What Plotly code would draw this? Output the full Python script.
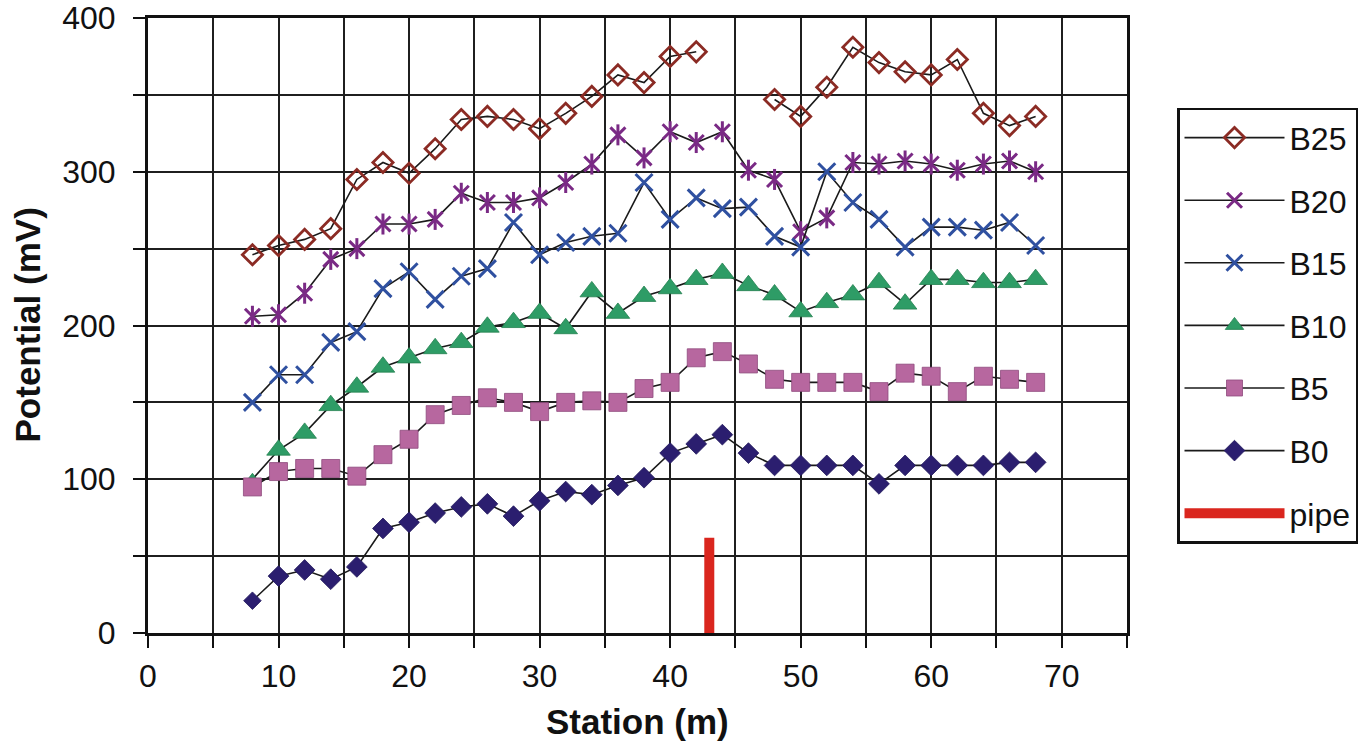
import plotly.graph_objects as go

# Survey stations along the line (m)
stations = [8, 10, 12, 14, 16, 18, 20, 22, 24, 26, 28, 30, 32, 34, 36, 38,
            40, 42, 44, 46, 48, 50, 52, 54, 56, 58, 60, 62, 64, 66, 68]

# Measured potentials (mV) for each electrode depth
b25 = [246, 252, 256, 263, 295, 306, 299, 315, 334, 336, 334, 328, 338, 349, 363, 358,
       375, 378, None, None, 347, 336, 355, 381, 371, 365, 363, 373, 338, 330, 336]
b20 = [206, 207, 221, 243, 250, 266, 266, 269, 286, 280, 280, 283, 293, 305, 324, 309,
       326, 319, 326, 301, 295, 261, 270, 306, 305, 307, 305, 301, 305, 307, 300]
b15 = [150, 168, 168, 189, 196, 224, 235, 217, 232, 237, 267, 246, 254, 258, 260, 293,
       269, 283, 276, 277, 258, 251, 300, 280, 269, 251, 264, 264, 262, 267, 252]
b10 = [100, 119, 130, 148, 160, 173, 179, 185, 189, 199, 202, 208, 198, 222, 208, 219,
       224, 230, 234, 226, 220, 209, 215, 220, 228, 214, 230, 230, 228, 228, 230]
b5 = [95, 105, 107, 107, 102, 116, 126, 142, 148, 153, 150, 144, 150, 151, 150, 159,
      163, 179, 183, 175, 165, 163, 163, 163, 157, 169, 167, 157, 167, 165, 163]
b0 = [21, 37, 41, 35, 43, 68, 72, 78, 82, 84, 76, 86, 92, 90, 96, 101,
      117, 123, 129, 117, 109, 109, 109, 109, 97, 109, 109, 109, 109, 111, 111]

# Pipe location and marker extent
pipe_x = [43, 43]
pipe_y = [0, 62]

x_ticks = [0, 10, 20, 30, 40, 50, 60, 70]
y_ticks = [0, 100, 200, 300, 400]

FONT = "Liberation Sans, Arial, sans-serif"
LINE = dict(color="#1a1a1a", width=1.6)

fig = go.Figure()

fig.add_trace(go.Scatter(
    x=stations, y=b25, name="B25", mode="lines+markers", legendgroup="b25",
    line=LINE, connectgaps=False,
    marker=dict(symbol="diamond-open", size=15.5, color="#8B2B24", opacity=1,
                line=dict(color="#8B2B24", width=2.8)),
))

# B20 star: an x with a vertical stroke through it
fig.add_trace(go.Scatter(
    x=stations, y=b20, name="B20", mode="lines+markers", legendgroup="b20",
    line=LINE,
    marker=dict(symbol="x-thin-open", size=15, color="#7A2A85", opacity=1,
                line=dict(color="#7A2A85", width=3)),
))
fig.add_trace(go.Scatter(
    x=stations, y=b20, name="B20", mode="markers", legendgroup="b20",
    showlegend=False, hoverinfo="skip",
    marker=dict(symbol="line-ns-open", size=15, color="#7A2A85", opacity=1,
                line=dict(color="#7A2A85", width=3)),
))

fig.add_trace(go.Scatter(
    x=stations, y=b15, name="B15", mode="lines+markers", legendgroup="b15",
    line=LINE,
    marker=dict(symbol="x-thin-open", size=17, color="#2F50A0", opacity=1,
                line=dict(color="#2F50A0", width=3)),
))

fig.add_trace(go.Scatter(
    x=stations, y=b10, name="B10", mode="lines+markers", legendgroup="b10",
    line=LINE,
    marker=dict(symbol="triangle-up", size=[12] + [20.5] * (len(stations) - 1),
                color="#2E9C66", opacity=1, line=dict(color="#23804F", width=0.8)),
))

fig.add_trace(go.Scatter(
    x=stations, y=b5, name="B5", mode="lines+markers", legendgroup="b5",
    line=LINE,
    marker=dict(symbol="square", size=18, color="#B7679F", opacity=1,
                line=dict(color="#8E4A7C", width=0.8)),
))

fig.add_trace(go.Scatter(
    x=stations, y=b0, name="B0", mode="lines+markers", legendgroup="b0",
    line=LINE,
    marker=dict(symbol="diamond", size=[13.5] + [16] * (len(stations) - 1),
                color="#2B1E6F", opacity=1, line=dict(color="#20165A", width=0.8)),
))

fig.add_trace(go.Scatter(
    x=pipe_x, y=pipe_y, name="pipe", mode="lines", legendgroup="pipe",
    line=dict(color="#DA261E", width=10),
))

grid = dict(showgrid=True, gridcolor="#1f1f1f", gridwidth=1.8)

fig.update_layout(
    width=1369, height=749,
    margin=dict(l=148, r=241, t=18, b=116),
    paper_bgcolor="white", plot_bgcolor="white",
    font=dict(family=FONT, size=32, color="#111111"),
    showlegend=True,
    legend=dict(
        x=1.050, xanchor="left", y=0.854, yanchor="top",
        bordercolor="#111111", borderwidth=2.5, bgcolor="white",
        font=dict(family=FONT, size=32, color="#111111"),
        tracegroupgap=18, itemwidth=100,
    ),
    xaxis=dict(
        range=[0, 75], tickvals=x_ticks, ticktext=[str(v) for v in x_ticks],
        ticks="outside", ticklen=12, tickwidth=2, tickcolor="#111111",
        showline=True, linecolor="#111111", linewidth=3, mirror=True,
        ticklabelstandoff=1, automargin=False,
        minor=dict(dtick=5, tick0=0, ticks="outside", ticklen=12, tickwidth=2,
                   tickcolor="#111111", showgrid=True, gridcolor="#1f1f1f", gridwidth=1.8),
        zeroline=False, **grid,
    ),
    yaxis=dict(
        range=[0, 400], tickvals=y_ticks, ticktext=[str(v) for v in y_ticks],
        ticks="outside", ticklen=12, tickwidth=2, tickcolor="#111111",
        showline=True, linecolor="#111111", linewidth=3, mirror=True,
        ticklabelstandoff=11, automargin=False,
        minor=dict(dtick=50, tick0=0, ticks="outside", ticklen=12, tickwidth=2,
                   tickcolor="#111111", showgrid=True, gridcolor="#1f1f1f", gridwidth=1.8),
        zeroline=False, **grid,
    ),
    annotations=[
        dict(text="<b>Station (m)</b>", xref="paper", yref="paper", x=0.5, y=0,
             xanchor="center", yanchor="middle", yshift=-88, showarrow=False,
             font=dict(family=FONT, size=35, color="#111111")),
        dict(text="<b>Potential (mV)</b>", xref="paper", yref="paper", x=0, y=0.5,
             xanchor="center", yanchor="middle", xshift=-121, textangle=-90,
             showarrow=False, font=dict(family=FONT, size=35, color="#111111")),
    ],
)

fig.write_html("out.html")
